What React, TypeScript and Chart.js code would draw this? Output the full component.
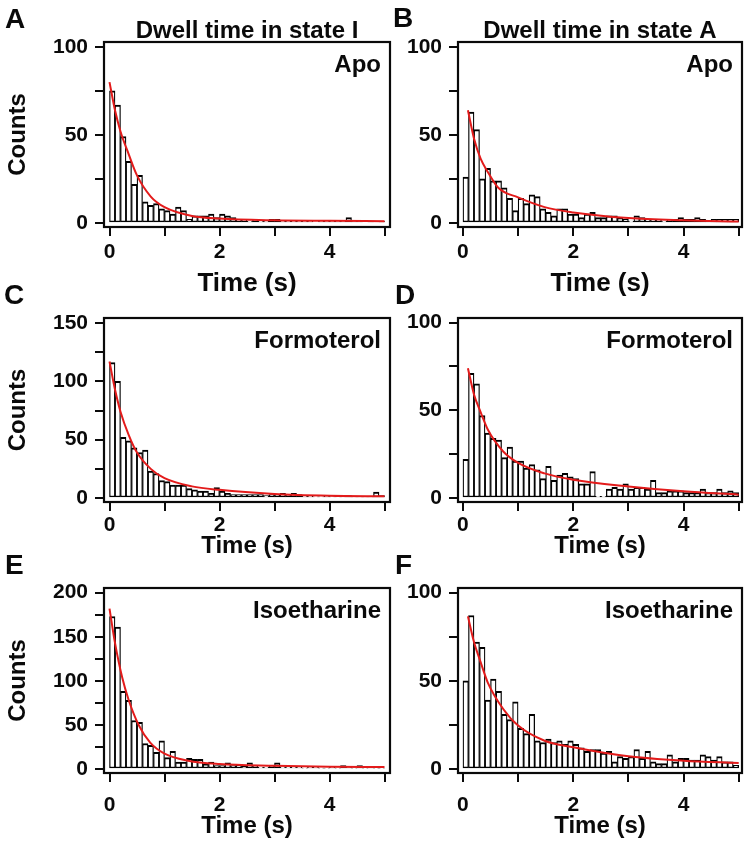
import React, { useEffect, useRef } from 'react';
import { Chart, registerables } from 'chart.js';

Chart.register(...registerables);

// ---------- data ----------
const binCenters = [
  0.05, 0.15, 0.25, 0.35, 0.45, 0.55, 0.65, 0.75, 0.85, 0.95,
  1.05, 1.15, 1.25, 1.35, 1.45, 1.55, 1.65, 1.75, 1.85, 1.95,
  2.05, 2.15, 2.25, 2.35, 2.45, 2.55, 2.65, 2.75, 2.85, 2.95,
  3.05, 3.15, 3.25, 3.35, 3.45, 3.55, 3.65, 3.75, 3.85, 3.95,
  4.05, 4.15, 4.25, 4.35, 4.45, 4.55, 4.65, 4.75, 4.85, 4.95,
];

const countsStateIApo = [
  75, 67, 49, 35, 22, 27, 12, 10, 11, 8,
  7, 5, 9, 7, 2, 4, 4, 4, 5, 3,
  5, 4, 3, 2, 2, 1, 2, 1, 1, 2,
  2, 1, 1, 1, 1, 1, 1, 0, 1, 1,
  1, 1, 1, 3, 1, 1, 0, 1, 0, 1,
];
const countsStateAApo = [
  26, 63, 53, 25, 31, 24, 24, 20, 14, 7,
  14, 11, 16, 15, 8, 6, 4, 8, 8, 5,
  5, 3, 5, 6, 3, 3, 4, 4, 3, 2,
  1, 4, 3, 2, 2, 2, 1, 2, 2, 3,
  2, 2, 3, 2, 1, 2, 2, 2, 2, 2,
];
const countsStateIFormoterol = [
  116, 100, 52, 49, 43, 39, 41, 23, 21, 15,
  14, 11, 11, 11, 8, 7, 6, 6, 4, 9,
  6, 4, 3, 3, 3, 3, 3, 3, 2, 3,
  3, 4, 3, 4, 3, 2, 2, 1, 1, 2,
  1, 1, 1, 2, 1, 1, 1, 1, 5, 2,
];
const countsStateAFormoterol = [
  22, 71, 65, 47, 37, 34, 33, 23, 29, 21,
  21, 17, 19, 16, 11, 18, 10, 13, 14, 12,
  11, 8, 8, 15, 1, 1, 5, 6, 5, 8,
  5, 6, 6, 5, 10, 3, 3, 4, 4, 4,
  3, 3, 3, 5, 3, 3, 5, 3, 4, 3,
];
const countsStateIIsoetharine = [
  173, 161, 88, 78, 55, 53, 29, 27, 19, 32,
  13, 20, 8, 8, 12, 11, 11, 6, 8, 4,
  4, 7, 4, 5, 3, 7, 4, 2, 2, 4,
  7, 2, 2, 2, 2, 1, 2, 2, 1, 1,
  2, 1, 4, 2, 1, 4, 1, 2, 1, 1,
];
const countsStateAIsoetharine = [
  50, 87, 72, 69, 39, 51, 44, 31, 28, 38,
  23, 20, 31, 16, 15, 17, 15, 16, 14, 16,
  14, 12, 10, 11, 11, 9, 10, 4, 7, 6,
  7, 11, 6, 10, 4, 3, 3, 8, 4, 6,
  6, 5, 5, 8, 7, 5, 7, 4, 4, 2,
];

// fitted curves
const fitTimesStateIApo = [0, 0.1, 0.2, 0.35, 0.5, 0.75, 1, 1.5, 2, 3, 4, 5];
const fitStateIApo = [80, 64, 52, 39, 27, 15, 9, 4, 2.5, 1.5, 1.2, 1];
const fitTimesStateAApo = [0.09, 0.2, 0.32, 0.45, 0.64, 1, 1.48, 2, 3, 4, 5];
const fitStateAApo = [64, 48, 36.5, 29, 20, 14.5, 9, 6, 2.8, 1.5, 0.8];
const fitTimesStateIFormoterol = [0, 0.1, 0.2, 0.35, 0.5, 0.75, 1, 1.5, 2, 3, 4, 5];
const fitStateIFormoterol = [117, 93, 74, 54, 39, 25, 17, 10, 7, 3.5, 2, 1.5];
const fitTimesStateAFormoterol = [0.09, 0.2, 0.32, 0.45, 0.73, 1, 1.48, 2, 3, 4, 5];
const fitStateAFormoterol = [74, 59, 49, 39, 26.5, 20, 14, 10.4, 6.6, 3.8, 1.9];
const fitTimesStateIIsoetharine = [0, 0.1, 0.23, 0.35, 0.53, 0.74, 1, 1.43, 2, 3, 4, 5];
const fitStateIIsoetharine = [182, 143, 104, 78, 50, 30, 17.5, 9.5, 5.7, 3.8, 2.7, 2.3];
const fitTimesStateAIsoetharine = [0.09, 0.2, 0.32, 0.45, 0.73, 1, 1.48, 2, 3, 4, 5];
const fitStateAIsoetharine = [86.5, 72, 60.6, 49, 34, 24.6, 16, 12.3, 7.2, 4.7, 3.4];

// ticks
const xTickValues = [0, 1, 2, 3, 4, 5];
const xTickLabels = [0, 2, 4];
const yTicks100 = [0, 25, 50, 75, 100];
const yLabels100 = [0, 50, 100];
const yTicks150 = [0, 25, 50, 75, 100, 125, 150];
const yLabels150 = [0, 50, 100, 150];
const yTicks200 = [0, 25, 50, 75, 100, 125, 150, 175, 200];
const yLabels200 = [0, 50, 100, 150, 200];

// ---------- layout ----------
const FONT = "'Liberation Sans', Arial, Helvetica, sans-serif";
const INK = '#0a0a0a';
const RED = '#e31b1b';

type Panel = {
  id: string;
  canvas: { left: number; top: number; width: number; height: number };
  frame: { left: number; top: number; right: number; bottom: number };
  counts: number[];
  fitT: number[];
  fitY: number[];
  yMin: number;
  yMax: number;
  yTicks: number[];
  yLabels: number[];
  xMin: number;
  xMax: number;
  yTitle: boolean;
  xTickPad: number;
  xTitleSize: number;
  xTitlePadBottom: number;
  letter: { text: string; x: number; y: number };
  colTitle?: { text: string; x: number; y: number };
  inLabel: string;
};

const PANELS: Panel[] = [
  {
    id: 'A',
    canvas: { left: 0, top: 0, width: 400, height: 300 },
    frame: { left: 104, top: 42, right: 390, bottom: 227 },
    counts: countsStateIApo, fitT: fitTimesStateIApo, fitY: fitStateIApo,
    yMin: -2.3, yMax: 102.8, yTicks: yTicks100, yLabels: yLabels100,
    xMin: -0.1, xMax: 5.1, yTitle: true,
    xTickPad: 4, xTitleSize: 26, xTitlePadBottom: 1,
    letter: { text: 'A', x: 5, y: 28 },
    colTitle: { text: 'Dwell time in state I', x: 247, y: 37.5 },
    inLabel: 'Apo',
  },
  {
    id: 'B',
    canvas: { left: 390, top: 0, width: 360, height: 300 },
    frame: { left: 458, top: 42, right: 742, bottom: 227 },
    counts: countsStateAApo, fitT: fitTimesStateAApo, fitY: fitStateAApo,
    yMin: -2.3, yMax: 102.8, yTicks: yTicks100, yLabels: yLabels100,
    xMin: -0.09, xMax: 5.06, yTitle: false,
    xTickPad: 4, xTitleSize: 26, xTitlePadBottom: 1,
    letter: { text: 'B', x: 393, y: 27 },
    colTitle: { text: 'Dwell time in state A', x: 600, y: 37.5 },
    inLabel: 'Apo',
  },
  {
    id: 'C',
    canvas: { left: 0, top: 275, width: 400, height: 297 },
    frame: { left: 104, top: 318, right: 390, bottom: 502 },
    counts: countsStateIFormoterol, fitT: fitTimesStateIFormoterol, fitY: fitStateIFormoterol,
    yMin: -3.4, yMax: 154.3, yTicks: yTicks150, yLabels: yLabels150,
    xMin: -0.1, xMax: 5.1, yTitle: true,
    xTickPad: 2, xTitleSize: 24, xTitlePadBottom: 11,
    letter: { text: 'C', x: 4, y: 304 },
    inLabel: 'Formoterol',
  },
  {
    id: 'D',
    canvas: { left: 390, top: 275, width: 360, height: 297 },
    frame: { left: 458, top: 318, right: 742, bottom: 502 },
    counts: countsStateAFormoterol, fitT: fitTimesStateAFormoterol, fitY: fitStateAFormoterol,
    yMin: -2.3, yMax: 102.6, yTicks: yTicks100, yLabels: yLabels100,
    xMin: -0.09, xMax: 5.06, yTitle: false,
    xTickPad: 2, xTitleSize: 24, xTitlePadBottom: 11,
    letter: { text: 'D', x: 395, y: 304 },
    inLabel: 'Formoterol',
  },
  {
    id: 'E',
    canvas: { left: 0, top: 548, width: 400, height: 300 },
    frame: { left: 104, top: 588, right: 390, bottom: 773 },
    counts: countsStateIIsoetharine, fitT: fitTimesStateIIsoetharine, fitY: fitStateIIsoetharine,
    yMin: -4.5, yMax: 205.3, yTicks: yTicks200, yLabels: yLabels200,
    xMin: -0.1, xMax: 5.1, yTitle: true,
    xTickPad: 11, xTitleSize: 24, xTitlePadBottom: 7,
    letter: { text: 'E', x: 5, y: 574 },
    inLabel: 'Isoetharine',
  },
  {
    id: 'F',
    canvas: { left: 390, top: 548, width: 360, height: 300 },
    frame: { left: 458, top: 588, right: 742, bottom: 773 },
    counts: countsStateAIsoetharine, fitT: fitTimesStateAIsoetharine, fitY: fitStateAIsoetharine,
    yMin: -2.3, yMax: 102.6, yTicks: yTicks100, yLabels: yLabels100,
    xMin: -0.09, xMax: 5.06, yTitle: false,
    xTickPad: 11, xTitleSize: 24, xTitlePadBottom: 7,
    letter: { text: 'F', x: 395, y: 574 },
    inLabel: 'Isoetharine',
  },
];

const decorPlugin = {
  id: 'decor',
  afterDatasetsDraw(chart: any, _args: any, opts: any) {
    const { ctx, chartArea: a } = chart;
    ctx.save();
    ctx.strokeStyle = INK;
    ctx.lineWidth = 2.2;
    ctx.strokeRect(a.left, a.top, a.right - a.left, a.bottom - a.top);
    ctx.fillStyle = INK;
    ctx.textBaseline = 'alphabetic';
    ctx.font = `bold 24px ${FONT}`;
    ctx.textAlign = 'right';
    ctx.fillText(opts.inLabel, a.right - 9, a.top + 30);
    ctx.textAlign = 'left';
    ctx.font = `bold 28px ${FONT}`;
    ctx.fillText(opts.letter.text, opts.letter.x - opts.ox, opts.letter.y - opts.oy);
    if (opts.colTitle) {
      ctx.textAlign = 'center';
      ctx.font = `bold 24px ${FONT}`;
      ctx.fillText(opts.colTitle.text, opts.colTitle.x - opts.ox, opts.colTitle.y - opts.oy);
    }
    ctx.restore();
  },
};

function PanelChart({ p }: { p: Panel }) {
  const ref = useRef<HTMLCanvasElement | null>(null);
  useEffect(() => {
    if (!ref.current) return;
    const c = p.canvas;
    const yAxisWidth = p.frame.left - c.left;
    const xAxisHeight = c.top + c.height - p.frame.bottom;
    const chart = new Chart(ref.current, {
      type: 'bar',
      data: {
        datasets: [
          {
            type: 'line',
            data: p.fitT.map((t, i) => ({ x: t, y: p.fitY[i] })),
            borderColor: RED,
            borderWidth: 2,
            pointRadius: 0,
            fill: false,
            cubicInterpolationMode: 'monotone',
            order: 0,
          } as any,
          {
            type: 'bar',
            data: binCenters.map((x, i) => ({ x, y: p.counts[i] })),
            backgroundColor: '#ffffff',
            borderColor: '#000000',
            borderWidth: { top: 2, left: 1.25, right: 1.25, bottom: 1.5 },
            borderSkipped: false,
            barPercentage: 1,
            categoryPercentage: 1,
            order: 1,
          } as any,
        ],
      },
      options: {
        responsive: false,
        animation: false,
        devicePixelRatio: 1,
        events: [],
        layout: {
          padding: {
            top: p.frame.top - c.top,
            right: c.left + c.width - p.frame.right,
            left: 0,
            bottom: 0,
          },
        },
        plugins: {
          legend: { display: false },
          tooltip: { enabled: false },
          decor: {
            inLabel: p.inLabel,
            letter: p.letter,
            colTitle: p.colTitle,
            ox: c.left,
            oy: c.top,
          },
        } as any,
        scales: {
          x: {
            type: 'linear',
            min: p.xMin,
            max: p.xMax,
            offset: false,
            afterBuildTicks: (s: any) => {
              s.ticks = xTickValues.map((value) => ({ value }));
            },
            afterFit: (s: any) => {
              s.height = xAxisHeight;
            },
            ticks: {
              autoSkip: false,
              maxRotation: 0,
              padding: p.xTickPad,
              color: INK,
              font: { family: FONT, size: 21, weight: 'bold' },
              callback: (v: any) => (xTickLabels.includes(Number(v)) ? String(v) : ''),
            },
            grid: {
              display: true,
              drawOnChartArea: false,
              drawTicks: true,
              tickLength: 9,
              tickWidth: 2,
              lineWidth: 2,
              tickColor: INK,
              color: INK,
              offset: false,
            },
            border: { display: false },
            title: {
              display: true,
              text: 'Time (s)',
              color: INK,
              font: { family: FONT, size: p.xTitleSize, weight: 'bold' },
              padding: { top: 0, bottom: p.xTitlePadBottom },
            },
          },
          y: {
            type: 'linear',
            min: p.yMin,
            max: p.yMax,
            afterBuildTicks: (s: any) => {
              s.ticks = p.yTicks.map((value) => ({ value }));
            },
            afterFit: (s: any) => {
              s.width = yAxisWidth;
            },
            ticks: {
              autoSkip: false,
              padding: 7,
              color: INK,
              font: { family: FONT, size: 21, weight: 'bold' },
              callback: (v: any) => (p.yLabels.includes(Number(v)) ? String(v) : ''),
            },
            grid: {
              display: true,
              drawOnChartArea: false,
              drawTicks: true,
              tickLength: 9,
              tickWidth: 2,
              lineWidth: 2,
              tickColor: INK,
              color: INK,
            },
            border: { display: false },
            title: {
              display: p.yTitle,
              text: 'Counts',
              color: INK,
              font: { family: FONT, size: 24, weight: 'bold' },
              padding: { top: 4, bottom: 0 },
            },
          },
        },
      } as any,
      plugins: [decorPlugin as any],
    });
    return () => chart.destroy();
  }, [p]);

  return (
    <canvas
      ref={ref}
      width={p.canvas.width}
      height={p.canvas.height}
      style={{
        position: 'absolute',
        left: p.canvas.left,
        top: p.canvas.top,
        width: p.canvas.width,
        height: p.canvas.height,
      }}
    />
  );
}

export default function App() {
  return (
    <div
      style={{
        position: 'absolute',
        left: 0,
        top: 0,
        width: 750,
        height: 848,
        background: '#ffffff',
        overflow: 'hidden',
      }}
    >
      {PANELS.map((p) => (
        <PanelChart key={p.id} p={p} />
      ))}
    </div>
  );
}
